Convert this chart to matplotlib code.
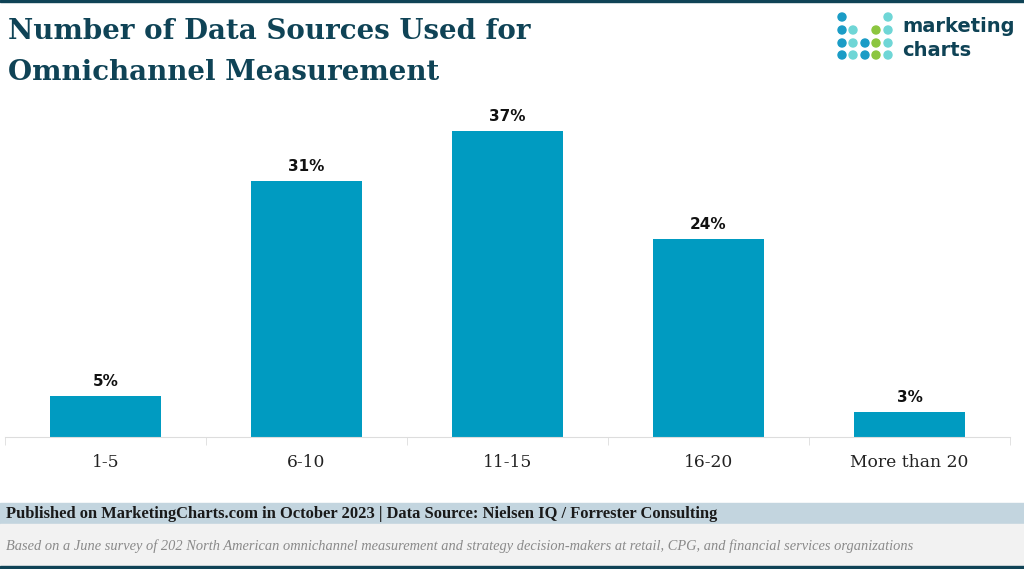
import numpy as np
import matplotlib.pyplot as plt
from matplotlib.patches import Rectangle, Ellipse

# chart data
categories = ['1-5', '6-10', '11-15', '16-20', 'More than 20']
shares = [5, 31, 37, 24, 3]

title = 'Number of Data Sources Used for\nOmnichannel Measurement'
published = ('Published on MarketingCharts.com in October 2023 | '
             'Data Source: Nielsen IQ / Forrester Consulting')
note = ('Based on a June survey of 202 North American omnichannel measurement '
        'and strategy decision-makers at retail, CPG, and financial services organizations')

W, H = 1024, 569
bar_color = '#009bc1'
dark = '#0f4356'

fig = plt.figure(figsize=(W / 100, H / 100), dpi=100)

def px(x, y):
    # pixel position (from top-left) -> figure fraction
    return x / W, 1 - y / H

# bars
ax = fig.add_axes([5 / W, 1 - 437 / H, 1005 / W, 330 / H])
x = np.arange(len(categories))
ax.bar(x, shares, width=0.55, color=bar_color, zorder=2)
ax.set_xlim(-0.5, len(categories) - 0.5)
ax.set_ylim(0, 330 / 8.27)
for xi, v in zip(x, shares):
    ax.annotate(f'{v}%', (xi, v), xytext=(0, 5), textcoords='offset points',
                ha='center', va='bottom', fontsize=11, fontweight='bold',
                family='DejaVu Sans', color='#111111')
ax.set_xticks(x)
ax.set_xticklabels(categories, family='DejaVu Serif', fontsize=12.3, color='#222222')
ax.set_xticks(np.arange(len(categories) + 1) - 0.5, minor=True)
ax.tick_params(axis='x', which='major', length=0, pad=12)
ax.tick_params(axis='x', which='minor', length=6, color='#dddddd', direction='out')
ax.set_yticks([])
for s in ['top', 'right', 'left']:
    ax.spines[s].set_visible(False)
ax.spines['bottom'].set_color('#dddddd')

# title
fig.text(*px(8, 18), title, ha='left', va='top', fontsize=19.9, fontweight='bold',
         family='DejaVu Serif', color=dark, linespacing=1.65)

# frame lines and footer bands
fig.add_artist(Rectangle(px(0, 2), 1, 2 / H, transform=fig.transFigure, color=dark))
fig.add_artist(Rectangle(px(0, 524), 1, 21 / H, transform=fig.transFigure, color='#c3d5df'))
fig.add_artist(Rectangle(px(0, 566), 1, 42 / H, transform=fig.transFigure, color='#f2f2f2'))
fig.add_artist(Rectangle(px(0, 569), 1, 3 / H, transform=fig.transFigure, color=dark))
fig.text(*px(6, 514), published, ha='left', va='center', fontsize=11.9,
         fontweight='bold', family='Liberation Serif', color='#1a1a1a')
fig.text(*px(6, 546), note, ha='left', va='center', fontsize=10.4,
         style='italic', family='Liberation Serif', color='#8a8a8a')

# logo dots
blue, teal, green = '#1a9cc6', '#6fd6d6', '#8cc63f'
dot_cols = [842, 853, 865, 876, 888]
dot_rows = [17, 30, 43, 55]
dot_map = [[blue, None, None, None, teal],
           [blue, teal, None, green, teal],
           [blue, teal, blue, green, teal],
           [blue, teal, blue, green, teal]]
for r, row in enumerate(dot_map):
    for c, col in enumerate(row):
        if col:
            fig.add_artist(Ellipse(px(dot_cols[c], dot_rows[r]), 8 / W, 8 / H,
                                   transform=fig.transFigure, color=col))
fig.text(*px(902, 27), 'marketing', ha='left', va='center', fontsize=14,
         fontweight='bold', family='DejaVu Sans', color=dark)
fig.text(*px(902, 50), 'charts', ha='left', va='center', fontsize=14,
         fontweight='bold', family='DejaVu Sans', color=dark)

fig.savefig('out.png', dpi=100)
